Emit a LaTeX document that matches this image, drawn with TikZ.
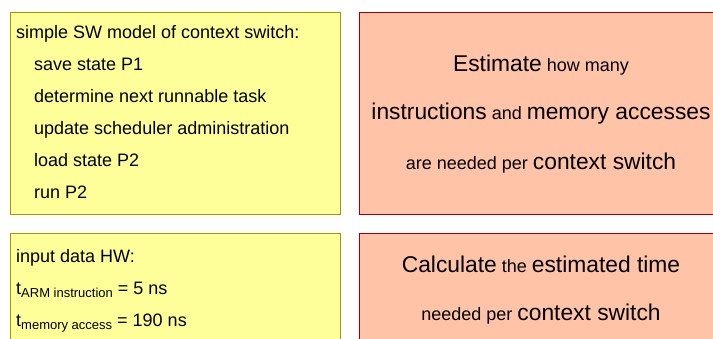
\documentclass[tikz,border=0pt]{standalone}
\usepackage{fontspec}
\setmainfont{Liberation Sans}

\definecolor{noteyellow}{HTML}{FFFF99}
\definecolor{noteborder}{HTML}{999900}
\definecolor{tasksalmon}{HTML}{FFC4A8}
\definecolor{taskborder}{HTML}{A00000}

\newcommand{\largeword}[1]{{\fontsize{22.8}{24}\selectfont #1}}
\newcommand{\subtxt}[1]{\raisebox{-3.5pt}{\fontsize{13}{14}\selectfont #1}}

\tikzset{
  note/.style={rectangle, draw=noteborder, fill=noteyellow, line width=1.2pt,
    anchor=north west, inner sep=0pt},
  task/.style={rectangle, draw=taskborder, fill=tasksalmon, line width=1.2pt,
    anchor=north west, inner sep=0pt},
  txt/.style={anchor=base west, inner sep=0pt, font=\fontsize{18}{20}\selectfont},
  ctxt/.style={anchor=base, inner sep=0pt, font=\fontsize{18}{20}\selectfont}
}

\begin{document}
\begin{tikzpicture}[x=1pt, y=-1pt]
  \useasboundingbox (0,0) rectangle (713,338);

  % boxes
  \node[note, minimum width=330pt, minimum height=202pt] (model) at (10,12) {};
  \node[task, minimum width=380pt, minimum height=202pt] (estimate) at (359,12) {};
  \node[note, minimum width=330pt, minimum height=115pt] (hwdata) at (10,233) {};
  \node[task, minimum width=380pt, minimum height=115pt] (calc) at (359,233) {};

  % SW model
  \node[txt] (modeltitle) at (16,38) {simple SW model of context switch:};
  \foreach \line [count=\i] in {save state P1, determine next runnable task,
      update scheduler administration, load state P2, run P2}
    \node[txt] (item\i) at (34,{38+32*\i}) {\line};

  % HW input data
  \node[txt] (hwtitle) at (16,262) {input data HW:};
  \node[txt] (tinstr) at (16,294) {t\subtxt{ARM instruction} = 5 ns};
  \node[txt] (tmem) at (16,326) {t\subtxt{memory access} = 190 ns};

  % questions
  \node[ctxt] (est1) at (541,71) {\largeword{Estimate} how many};
  \node[ctxt] (est2) at (541,119) {\largeword{instructions} and \largeword{memory accesses}};
  \node[ctxt] (est3) at (541,169) {are needed per \largeword{context switch}};
  \node[ctxt] (calc1) at (541,272) {\largeword{Calculate} the \largeword{estimated time}};
  \node[ctxt] (calc2) at (541,320) {needed per \largeword{context switch}};
\end{tikzpicture}
\end{document}
